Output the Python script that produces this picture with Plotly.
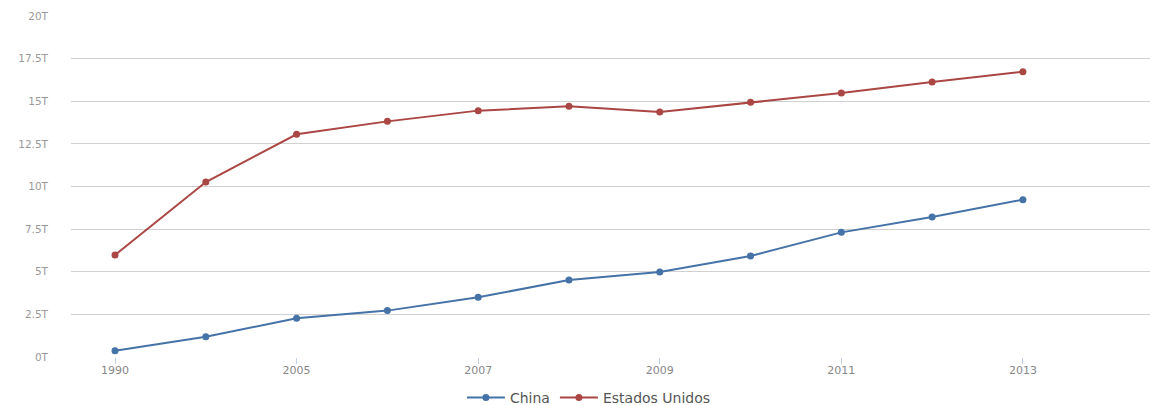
import plotly.graph_objects as go

years = ["1990", "2000", "2005", "2006", "2007", "2008", "2009", "2010", "2011", "2012", "2013"]
china = [0.37, 1.19, 2.27, 2.72, 3.50, 4.52, 4.99, 5.92, 7.31, 8.21, 9.23]
usa = [5.98, 10.26, 13.06, 13.82, 14.45, 14.70, 14.37, 14.94, 15.48, 16.13, 16.73]
x_tick_labels = ["1990", "2005", "2007", "2009", "2011", "2013"]
y_tick_vals = [0, 2.5, 5, 7.5, 10, 12.5, 15, 17.5, 20]
y_tick_text = ["0T", "2.5T", "5T", "7.5T", "10T", "12.5T", "15T", "17.5T", "20T"]

fig = go.Figure()
fig.add_trace(go.Scatter(x=years, y=china, name="China", mode="lines+markers",
                         line=dict(color="#4572A7", width=2),
                         marker=dict(size=7, color="#4572A7")))
fig.add_trace(go.Scatter(x=years, y=usa, name="Estados Unidos", mode="lines+markers",
                         line=dict(color="#AA4643", width=2),
                         marker=dict(size=7, color="#AA4643")))

fig.update_layout(
    width=1150, height=405,
    margin=dict(l=71, r=0, t=16, b=48, autoexpand=False),
    paper_bgcolor="white", plot_bgcolor="white",
    font=dict(family="DejaVu Sans, sans-serif", color="#666"),
    showlegend=True,
    legend=dict(orientation="h", x=0.48, xanchor="center", y=-0.12, yanchor="middle",
                font=dict(size=14, color="#555"), itemwidth=38),
    xaxis=dict(type="category", range=[-0.485, 11.4], automargin=False,
               tickvals=x_tick_labels, ticktext=x_tick_labels,
               showgrid=False, showline=False, zeroline=False,
               ticks="outside", ticklen=6, tickcolor="#C0D0E0", tickwidth=1,
               ticklabelstandoff=-3,
               tickfont=dict(size=11, color="#888")),
    yaxis=dict(range=[0, 20], tickvals=y_tick_vals, ticktext=y_tick_text, automargin=False,
               showgrid=True, gridcolor="#D0D0D0", gridwidth=1,
               zeroline=True, zerolinecolor="rgba(0,0,0,0)",
               showline=False, ticks="", ticklabelstandoff=22,
               tickfont=dict(size=10.5, color="#999")),
)

fig.write_html("out.html", config={"displayModeBar": False},
               post_script="document.body.style.margin='0';document.body.style.overflow='hidden';")
